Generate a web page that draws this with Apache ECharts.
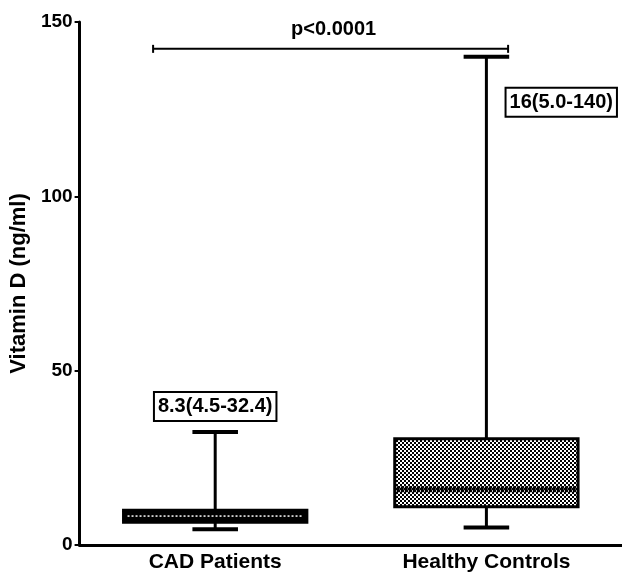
<!DOCTYPE html>
<html>
<head>
    <meta charset="UTF-8">
    <title>Vitamin D box plot</title>
    <script src="https://cdn.jsdelivr.net/npm/echarts@6/dist/echarts.min.js"></script>
</head>
<body style="margin: 0;overflow: hidden;background: #fff;">
<div id="chart" style="width: 622px;height: 573px;"></div>
<script type="text/javascript">
    var categories = ['CAD Patients', 'Healthy Controls'];
    var minValues = [4.5, 5.0];
    var q1Values = [6.5, 11];
    var medianValues = [8.3, 16];
    var q3Values = [10, 30.5];
    var maxValues = [32.4, 140];
    var summaryTexts = ['8.3(4.5-32.4)', '16(5.0-140)'];
    var summaryAt = [39.7, 127];
    var bracketAt = 142.3;
    var pText = 'p<0.0001';
    var yTicks = [0, 50, 100, 150];

    var font = 'Liberation Sans';

    // small checker tile for the hatched box
    var tile = document.createElement('canvas');
    tile.width = 4;
    tile.height = 4;
    var ctx = tile.getContext('2d');
    ctx.fillStyle = '#fff';
    ctx.fillRect(0, 0, 4, 4);
    ctx.fillStyle = '#000';
    ctx.fillRect(0, 0, 2, 2);
    ctx.fillRect(2, 2, 2, 2);
    var checker = {image: tile, repeat: 'repeat'};

    var boxData = categories.map(function (c, i) {
        return [i, minValues[i], q1Values[i], medianValues[i], q3Values[i], maxValues[i], summaryAt[i]];
    });

    function renderBox(params, api) {
        var i = api.value(0);
        var band = api.size([1, 0])[0];
        var x = api.coord([i, 0])[0];
        var half = band * 0.338;
        var cap = band * 0.084;
        var yMin = api.coord([i, api.value(1)])[1];
        var yQ1 = api.coord([i, api.value(2)])[1];
        var yMed = api.coord([i, api.value(3)])[1];
        var yQ3 = api.coord([i, api.value(4)])[1];
        var yMax = api.coord([i, api.value(5)])[1];
        var yLab = api.coord([i, api.value(6)])[1];
        var line = {stroke: '#000', lineWidth: 3};
        var capStyle = {stroke: '#000', lineWidth: 4};
        var children = [
            {type: 'line', shape: {x1: x, y1: yMax, x2: x, y2: yQ3}, style: line},
            {type: 'line', shape: {x1: x, y1: yQ1, x2: x, y2: yMin}, style: line},
            {type: 'line', shape: {x1: x - cap, y1: yMax, x2: x + cap, y2: yMax}, style: capStyle},
            {type: 'line', shape: {x1: x - cap, y1: yMin, x2: x + cap, y2: yMin}, style: capStyle},
            {
                type: 'rect',
                shape: {x: x - half, y: yQ3, width: half * 2, height: yQ1 - yQ3},
                style: {fill: i === 0 ? '#000' : checker, stroke: '#000', lineWidth: 3}
            }
        ];
        if (i === 0) {
            children.push({type: 'line', shape: {x1: x - half + 4, y1: yMed, x2: x + half - 4, y2: yMed},
                style: {stroke: '#fff', lineWidth: 1.5, lineDash: [2, 2]}});
        } else {
            children.push({type: 'line', shape: {x1: x - half + 2, y1: yMed, x2: x + half - 2, y2: yMed},
                style: {stroke: '#000', lineWidth: 6, lineDash: [3, 1]}});
        }
        children.push({
            type: 'text',
            x: x + (i === 0 ? 0 : band * 0.276),
            y: yLab,
            style: {
                text: summaryTexts[i],
                fontFamily: font,
                fontWeight: 'bold',
                fontSize: 20,
                fill: '#000',
                align: 'center',
                verticalAlign: 'middle',
                backgroundColor: '#fff',
                borderColor: '#000',
                borderWidth: 2,
                padding: [4, 3, 3, 3]
            }
        });
        return {type: 'group', children: children};
    }

    function renderBracket(params, api) {
        var band = api.size([1, 0])[0];
        var y = api.coord([0, api.value(0)])[1];
        var x1 = api.coord([0, 0])[0] - band * 0.229;
        var x2 = api.coord([1, 0])[0] + band * 0.08;
        var st = {stroke: '#000', lineWidth: 2};
        return {
            type: 'group',
            children: [
                {type: 'line', shape: {x1: x1, y1: y, x2: x2, y2: y}, style: st},
                {type: 'line', shape: {x1: x1, y1: y - 4, x2: x1, y2: y + 4}, style: st},
                {type: 'line', shape: {x1: x2, y1: y - 4, x2: x2, y2: y + 4}, style: st},
                {
                    type: 'text',
                    x: (x1 + x2) / 2 + 3,
                    y: y - 19,
                    style: {
                        text: pText, fontFamily: font, fontWeight: 'bold', fontSize: 20,
                        fill: '#000', align: 'center', verticalAlign: 'middle'
                    }
                }
            ]
        };
    }

    var chart = echarts.init(document.getElementById('chart'));
    chart.setOption({
        animation: false,
        grid: {left: 78, width: 550, top: 22, bottom: 26, containLabel: false},
        xAxis: {
            type: 'category',
            data: categories,
            axisLine: {lineStyle: {color: '#000', width: 3}},
            axisTick: {alignWithLabel: true, length: 6, lineStyle: {color: '#000', width: 2}},
            axisLabel: {color: '#000', fontFamily: font, fontWeight: 'bold', fontSize: 21, margin: 7}
        },
        yAxis: {
            type: 'value',
            min: 0,
            max: 150,
            interval: 50,
            name: 'Vitamin D (ng/ml)',
            nameLocation: 'middle',
            nameGap: 39,
            nameTextStyle: {color: '#000', fontFamily: font, fontWeight: 'bold', fontSize: 22},
            splitLine: {show: false},
            axisLine: {show: true, lineStyle: {color: '#000', width: 3}},
            axisTick: {show: true, length: 5, lineStyle: {color: '#000', width: 2}},
            axisLabel: {
                color: '#000', fontFamily: font, fontWeight: 'bold', fontSize: 19, margin: 7,
                formatter: function (v) {
                    return yTicks.indexOf(v) >= 0 ? String(v) : '';
                }
            }
        },
        series: [
            {
                type: 'custom',
                renderItem: renderBox,
                encode: {x: 0, y: [1, 2, 3, 4, 5]},
                data: boxData,
                clip: false
            },
            {
                type: 'custom',
                renderItem: renderBracket,
                encode: {y: 0},
                data: [[bracketAt]],
                clip: false
            }
        ]
    });
</script>
</body>
</html>
